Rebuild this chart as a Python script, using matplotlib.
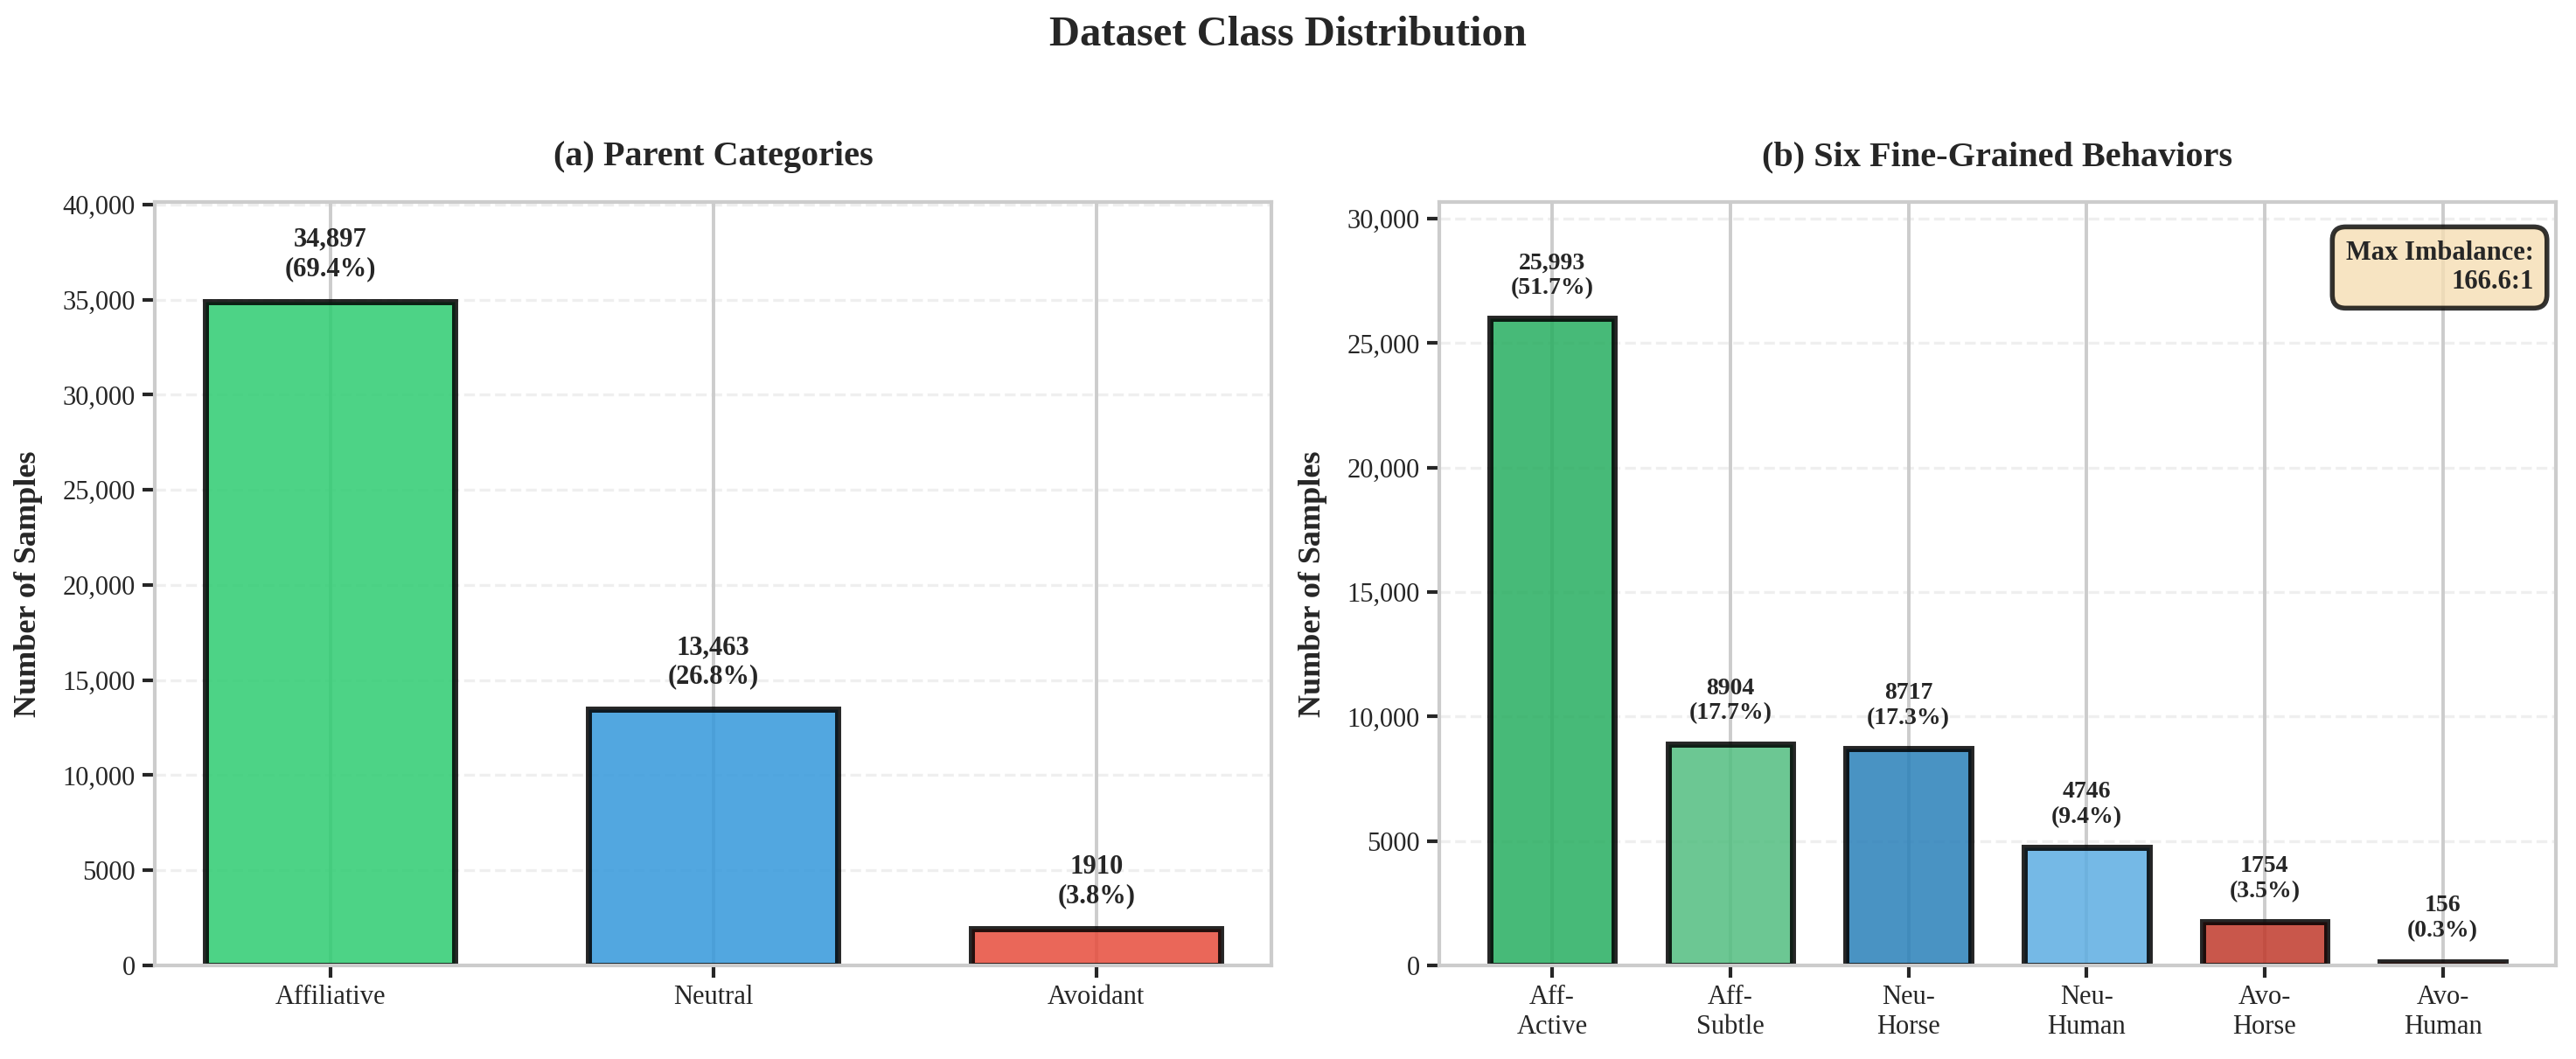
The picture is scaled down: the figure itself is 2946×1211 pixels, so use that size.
import matplotlib
matplotlib.use('Agg')
import matplotlib.pyplot as plt
from matplotlib.ticker import FuncFormatter

# data
parent_labels = ['Affiliative', 'Neutral', 'Avoidant']
parent_counts = [34897, 13463, 1910]
parent_colors = ['#2ecc71', '#3498db', '#e74c3c']

fine_labels = ['Aff-\nActive', 'Aff-\nSubtle', 'Neu-\nHorse', 'Neu-\nHuman', 'Avo-\nHorse', 'Avo-\nHuman']
fine_counts = [25993, 8904, 8717, 4746, 1754, 156]
fine_colors = ['#27ae60', '#52be80', '#2980b9', '#5dade2', '#c0392b', '#e74c3c']

TXT = '#262626'

plt.rcParams['font.family'] = ['Liberation Serif', 'DejaVu Serif']
plt.rcParams['text.color'] = TXT
plt.rcParams['axes.labelcolor'] = TXT
plt.rcParams['xtick.color'] = TXT
plt.rcParams['ytick.color'] = TXT


def fmt_num(v):
    v = int(round(v))
    return f'{v:,}' if v >= 10000 else f'{v}'


def draw_panel(ax, labels, counts, colors, width, top_factor, title, label_size):
    total = sum(counts)
    x = list(range(len(counts)))
    ax.set_axisbelow(True)
    ax.bar(x, counts, width=width, color=colors, edgecolor='black',
           linewidth=2.5, alpha=0.85)
    off = max(counts) * 0.03
    for xi, c in zip(x, counts):
        ax.text(xi, c + off, f'{fmt_num(c)}\n({c / total * 100:.1f}%)',
                ha='center', va='bottom', fontsize=label_size, fontweight='bold')
    ax.set_xticks(x)
    ax.set_xticklabels(labels, fontsize=11)
    ax.set_ylim(0, max(counts) * top_factor)
    ax.yaxis.set_major_formatter(FuncFormatter(lambda v, p: fmt_num(v)))
    ax.tick_params(axis='both', which='major', length=5, width=1.5,
                   labelsize=11, pad=3)
    ax.set_ylabel('Number of Samples', fontsize=13, fontweight='bold', labelpad=8)
    ax.set_title(title, fontsize=14.5, fontweight='bold', pad=15)
    ax.grid(axis='x', color='#cccccc', linewidth=1.4, linestyle='-')
    ax.grid(axis='y', color='#cccccc', linewidth=1.2, linestyle='--', alpha=0.3)
    for s in ax.spines.values():
        s.set_color('#cccccc')
        s.set_linewidth(1.5)


fig, axes = plt.subplots(1, 2, figsize=(14.73, 6.055), dpi=200)
fig.subplots_adjust(left=0.0601, right=0.9922, bottom=0.0884, top=0.8092, wspace=0.15)

draw_panel(axes[0], parent_labels, parent_counts, parent_colors, 0.65, 1.15,
           '(a) Parent Categories', 11)
draw_panel(axes[1], fine_labels, fine_counts, fine_colors, 0.7, 1.18,
           '(b) Six Fine-Grained Behaviors', 10)

ratio = max(fine_counts) / min(fine_counts)
axes[1].text(0.98, 0.95, f'Max Imbalance:\n{ratio:.1f}:1', transform=axes[1].transAxes,
             ha='right', va='top', fontsize=11, fontweight='bold',
             bbox=dict(boxstyle='round,pad=0.5', facecolor='wheat', alpha=0.8,
                       edgecolor='black', linewidth=2))

fig.suptitle('Dataset Class Distribution', fontsize=17.5, fontweight='bold', y=0.985)

fig.savefig('out.png', dpi=200)
